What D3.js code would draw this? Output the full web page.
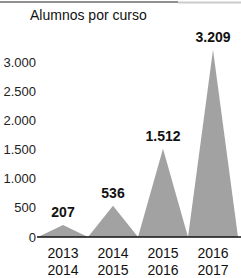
<!DOCTYPE html>
<meta charset="utf-8">
<style>
body { margin: 0; background: #fff; }
svg { display: block; font-family: "Liberation Sans", Arial, sans-serif; }
.tick-label { font-size: 13px; fill: #222; text-anchor: end; }
.value { font-size: 14px; font-weight: bold; fill: #111; text-anchor: middle; }
.cat { font-size: 14px; fill: #111; text-anchor: middle; }
.title { font-size: 14px; fill: #111; }
</style>
<svg width="241" height="278"></svg>
<script src="https://cdn.jsdelivr.net/npm/d3@7"></script>
<script>

var cursos = ["2013-2014", "2014-2015", "2015-2016", "2016-2017"];
var alumnos = [207, 536, 1512, 3209];
var valueLabels = ["207", "536", "1.512", "3.209"];
var tickValues = [0, 500, 1000, 1500, 2000, 2500, 3000];
var tickLabels = ["0", "500", "1.000", "1.500", "2.000", "2.500", "3.000"];

var svg = d3.select("svg"),
    width = +svg.attr("width"),
    height = +svg.attr("height");

var x = d3.scaleBand()
    .domain(cursos)
    .range([38, 238])
    .padding(0);

var y = d3.scaleLinear()
    .domain([0, 3000])
    .range([237, 62]);

// top rule
svg.append("line")
    .attr("x1", 0).attr("x2", 178).attr("y1", 2).attr("y2", 2)
    .attr("stroke", "#222").attr("stroke-width", 1);
svg.append("line")
    .attr("x1", 178).attr("x2", 241).attr("y1", 2.5).attr("y2", 2.5)
    .attr("stroke", "#ccc").attr("stroke-width", 2);

svg.append("text")
    .attr("class", "title")
    .attr("x", 30).attr("y", 20)
    .text("Alumnos por curso");

// y tick labels
svg.selectAll(".tick-label")
  .data(tickValues)
  .enter().append("text")
    .attr("class", "tick-label")
    .attr("x", 36)
    .attr("y", function(d) { return y(d) + 4.5; })
    .text(function(d, i) { return tickLabels[i]; });

// mountains
var area = d3.line();
svg.selectAll(".peak")
  .data(alumnos)
  .enter().append("path")
    .attr("class", "peak")
    .attr("fill", "#a2a2a2")
    .attr("d", function(d, i) {
      var x0 = x(cursos[i]), bw = x.bandwidth();
      return area([[x0, y(0)], [x0 + bw / 2, y(d)], [x0 + bw, y(0)]]) + "Z";
    });

// baseline
svg.append("line")
    .attr("x1", 37).attr("x2", 241)
    .attr("y1", y(0)).attr("y2", y(0))
    .attr("stroke", "#111").attr("stroke-width", 1.5);

// value labels
svg.selectAll(".value")
  .data(alumnos)
  .enter().append("text")
    .attr("class", "value")
    .attr("x", function(d, i) { return x(cursos[i]) + x.bandwidth() / 2; })
    .attr("y", function(d) { return y(d) - 8; })
    .text(function(d, i) { return valueLabels[i]; });

// category labels (two lines)
var cat = svg.selectAll(".cat")
  .data(cursos)
  .enter().append("text")
    .attr("class", "cat")
    .attr("x", function(d) { return x(d) + x.bandwidth() / 2; })
    .attr("y", 258);
cat.append("tspan").text(function(d) { return d.split("-")[0]; });
cat.append("tspan")
    .attr("x", function(d) { return x(d) + x.bandwidth() / 2; })
    .attr("dy", 17)
    .text(function(d) { return d.split("-")[1]; });

</script>
